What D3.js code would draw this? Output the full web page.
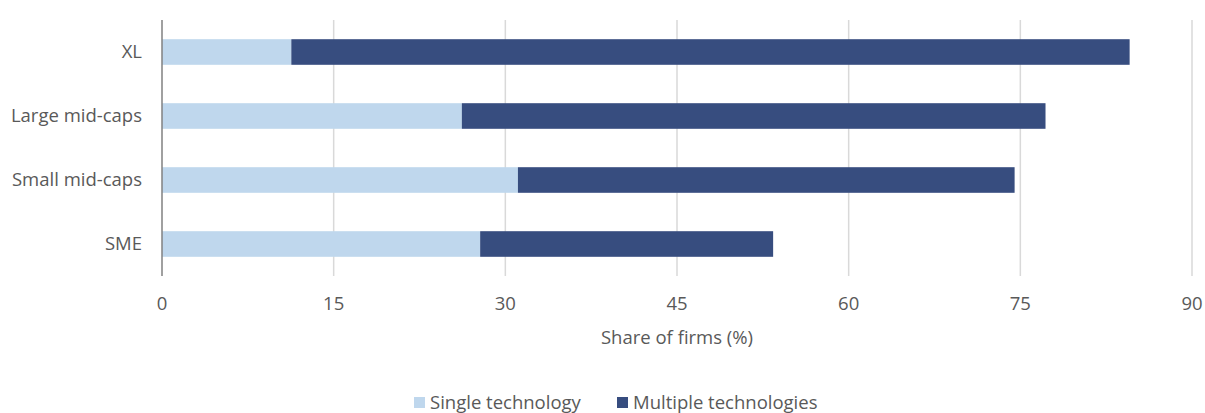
<!DOCTYPE html>
<html lang="en">
<head>
<meta charset="UTF-8">
<script src="https://cdn.jsdelivr.net/npm/d3@7"></script>
<style>
    * { margin: 0; padding: 0; }
    body { background: #fff; }
    text { font-family: "Open Sans", "Liberation Sans", sans-serif; fill: #595959; font-size: 18.5px; }
</style>
</head>
<body>
<script>
    const categories = ["XL", "Large mid-caps", "Small mid-caps", "SME"];
    const single = [11.3, 26.2, 31.1, 27.8];
    const multiple = [73.25, 51.0, 43.4, 25.6];
    const seriesNames = ["Single technology", "Multiple technologies"];
    const xTicks = [0, 15, 30, 45, 60, 75, 90];
    const colors = ["#bfd7ed", "#374d7f"];

    const width = 1205, height = 413;
    const plotLeft = 162, plotRight = 1192, plotTop = 20, plotBottom = 276;

    const svg = d3.select("body").append("svg")
        .attr("width", width)
        .attr("height", height);

    const x = d3.scaleLinear().domain([0, 90]).range([plotLeft, plotRight]);
    const y = d3.scaleBand().domain(categories).range([plotTop, plotBottom]).paddingInner(0.6).paddingOuter(0.3);

    // gridlines
    svg.append("g").selectAll("line").data(xTicks.slice(1)).enter().append("line")
        .attr("x1", d => x(d)).attr("x2", d => x(d))
        .attr("y1", plotTop).attr("y2", plotBottom)
        .attr("stroke", "#d9d9d9").attr("stroke-width", 1.5);

    const rows = categories.map((c, i) => ({ cat: c, vals: [single[i], multiple[i]] }));
    const stack = d3.stack().keys([0, 1]).value((d, k) => d.vals[k]);
    const layers = stack(rows);

    svg.append("g").selectAll("g").data(layers).enter().append("g")
        .attr("fill", (d, i) => colors[i])
        .selectAll("rect").data(d => d).enter().append("rect")
        .attr("x", d => x(d[0]))
        .attr("width", d => x(d[1]) - x(d[0]))
        .attr("y", d => y(d.data.cat))
        .attr("height", y.bandwidth());

    // category axis line
    svg.append("line")
        .attr("x1", x(0)).attr("x2", x(0))
        .attr("y1", plotTop).attr("y2", plotBottom)
        .attr("stroke", "#808080").attr("stroke-width", 1.5);

    svg.append("g").selectAll("text").data(categories).enter().append("text")
        .attr("x", plotLeft - 20)
        .attr("y", d => y(d) + y.bandwidth() / 2)
        .attr("dy", "0.35em")
        .attr("text-anchor", "end")
        .text(d => d);

    svg.append("g").selectAll("text").data(xTicks).enter().append("text")
        .attr("x", d => x(d))
        .attr("y", 304)
        .attr("dy", "0.35em")
        .attr("text-anchor", "middle")
        .text(d => d);

    svg.append("text")
        .attr("x", (plotLeft + plotRight) / 2)
        .attr("y", 338)
        .attr("dy", "0.35em")
        .attr("text-anchor", "middle")
        .text("Share of firms (%)");

    // legend
    const legendX = [414, 617];
    const legend = svg.append("g").selectAll("g").data(seriesNames).enter().append("g")
        .attr("transform", (d, i) => `translate(${legendX[i]},403)`);
    legend.append("rect")
        .attr("x", 0).attr("y", -6).attr("width", 11).attr("height", 11)
        .attr("fill", (d, i) => colors[i]);
    legend.append("text")
        .attr("x", 16).attr("dy", "0.35em")
        .text(d => d);
</script>
</body>
</html>
